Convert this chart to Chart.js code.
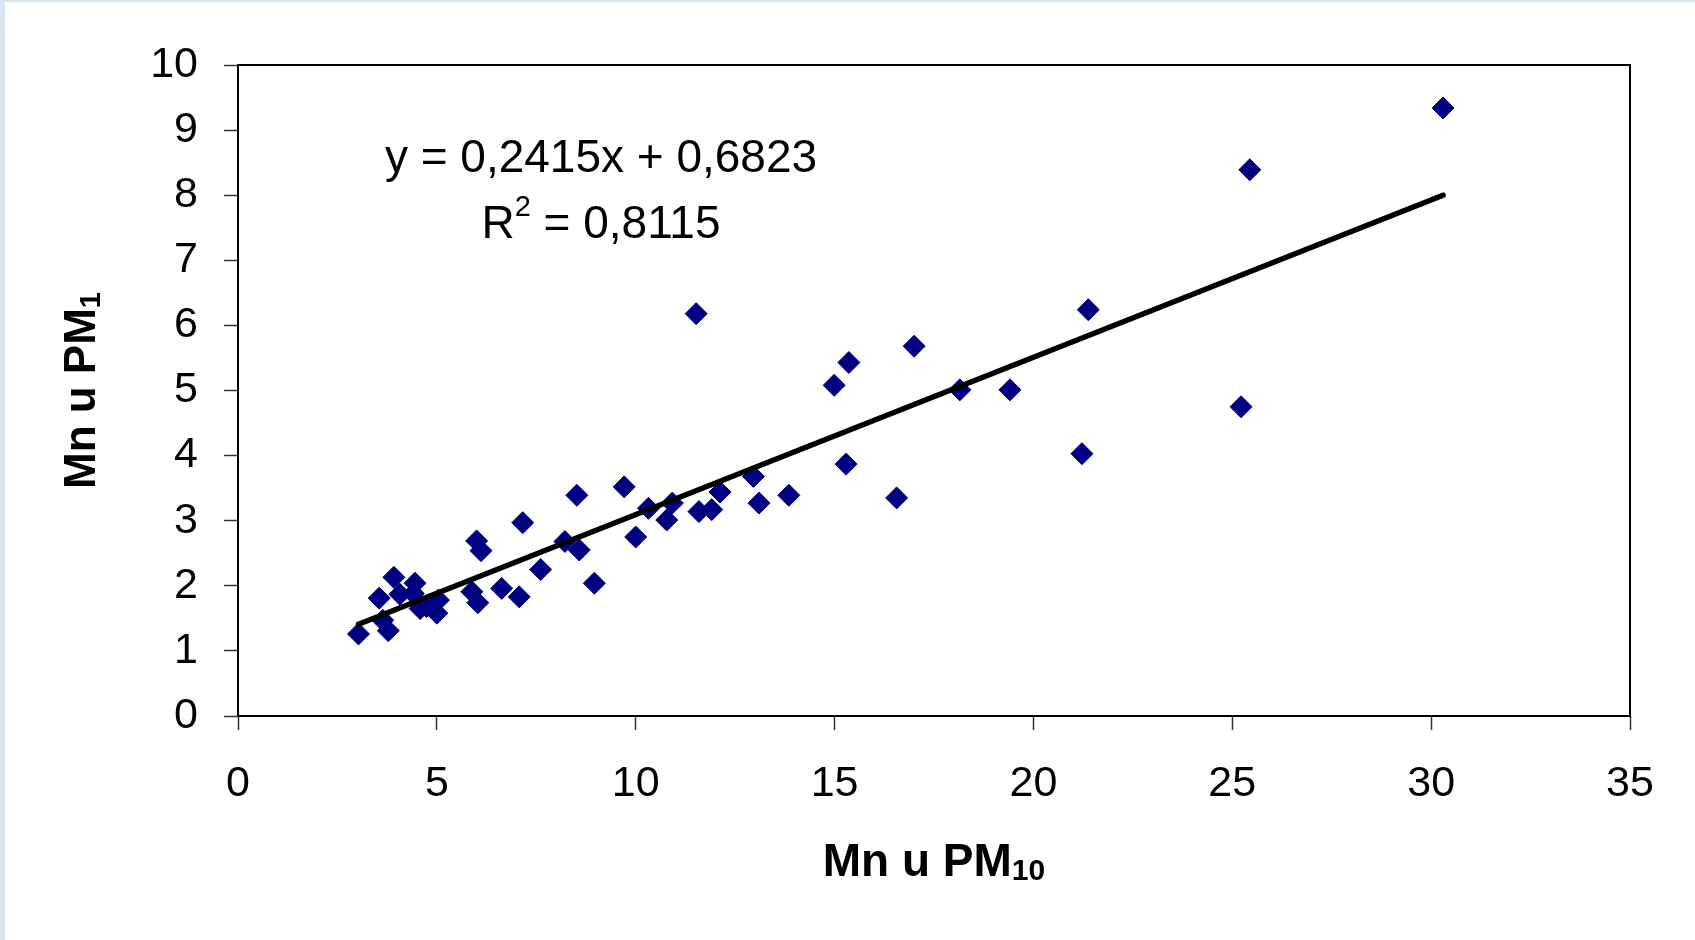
<!DOCTYPE html>
<html>
<head>
<meta charset="utf-8">
<script src="https://cdn.jsdelivr.net/npm/chart.js@4.4.1/dist/chart.umd.min.js"></script>
<style>
  html, body { margin: 0; padding: 0; }
  body {
    width: 1695px; height: 940px; overflow: hidden;
    background:
      linear-gradient(#d6e5f4, #d6e5f4) 0 0 / 5px 100% no-repeat,
      linear-gradient(#d6e5f4, #d6e5f4) 0 0 / 100% 2px no-repeat,
      #fff;
  }
  canvas { display: block; }
</style>
</head>
<body>
<canvas id="myChart" width="1695" height="940"></canvas>
<script>
    // Mn in PM10 (x) and in PM1 (y)
    const pm10 = [3.03, 3.55, 3.64, 3.78, 3.92, 4.07, 4.41, 4.45, 4.58, 4.74,
                  5.0, 5.04, 5.88, 6.0, 6.03, 6.11, 6.63, 7.07, 7.16, 7.61,
                  8.22, 8.52, 8.58, 8.96, 9.71, 10.0, 10.32, 10.78, 10.92, 11.52,
                  11.59, 11.91, 12.12, 12.96, 13.1, 13.85, 14.99, 15.29, 15.36, 16.56,
                  17.0, 18.15, 19.41, 21.22, 21.38, 25.22, 25.44, 30.3];
    const pm1 = [1.26, 1.81, 1.47, 1.31, 2.13, 1.87, 1.88, 2.04, 1.65, 1.68,
                 1.58, 1.78, 1.91, 2.69, 1.74, 2.54, 1.96, 1.83, 2.97, 2.25,
                 2.68, 3.39, 2.55, 2.04, 3.52, 2.75, 3.19, 3.01, 3.27, 6.18,
                 3.14, 3.17, 3.44, 3.68, 3.27, 3.39, 5.08, 3.87, 5.43, 3.35,
                 5.68, 5.01, 5.01, 4.03, 6.24, 4.75, 8.39, 9.34];

    // linear trend line, from first to last x
    const trendX = [3.03, 30.3];
    const trendY = [1.41, 8.0];

    const eqText = "y = 0,2415x + 0,6823";
    const r2Label = "R";
    const r2Sup = "2";
    const r2Value = " = 0,8115";

    // axis titles: main part + subscript
    const xTitle = ["Mn u PM", "10"];
    const yTitle = ["Mn u PM", "1"];

    const FONT = "'Liberation Sans', Arial, sans-serif";

    // black box round the plot area
    const frame = {
        id: 'frame',
        afterDraw(chart) {
            const {ctx, chartArea: a} = chart;
            ctx.save();
            ctx.strokeStyle = '#000';
            ctx.lineWidth = 2;
            ctx.strokeRect(a.left, a.top, a.right - a.left, a.bottom - a.top);
            ctx.restore();
        }
    };

    // writes "main" + lowered "sub" centred on (0,0) of current transform
    function subText(ctx, parts, size) {
        const sub = Math.round(size * 0.66);
        ctx.font = "bold " + size + "px " + FONT;
        const w1 = ctx.measureText(parts[0]).width;
        ctx.font = "bold " + sub + "px " + FONT;
        const w2 = ctx.measureText(parts[1]).width;
        let x = -(w1 + w2) / 2;
        ctx.textAlign = 'left';
        ctx.textBaseline = 'middle';
        ctx.font = "bold " + size + "px " + FONT;
        ctx.fillText(parts[0], x, 0);
        ctx.font = "bold " + sub + "px " + FONT;
        ctx.fillText(parts[1], x + w1, 9);
    }

    const titles = {
        id: 'titles',
        afterDraw(chart) {
            const {ctx, chartArea: a} = chart;
            ctx.save();
            ctx.fillStyle = '#000';
            ctx.translate((a.left + a.right) / 2, a.bottom + 147);
            subText(ctx, xTitle, 46);
            ctx.restore();

            ctx.save();
            ctx.fillStyle = '#000';
            ctx.translate(a.left - 155, (a.top + a.bottom) / 2);
            ctx.rotate(-Math.PI / 2);
            subText(ctx, yTitle, 44);
            ctx.restore();
        }
    };

    // trend line equation and R squared
    const equation = {
        id: 'equation',
        afterDraw(chart) {
            const {ctx, chartArea: a} = chart;
            const cx = a.left + 363;
            ctx.save();
            ctx.fillStyle = '#000';
            ctx.textBaseline = 'middle';
            ctx.textAlign = 'center';
            ctx.font = "46px " + FONT;
            ctx.fillText(eqText, cx, a.top + 94);

            const y2 = a.top + 160;
            const wR = ctx.measureText(r2Label).width;
            const wRest = ctx.measureText(r2Value).width;
            ctx.font = "29px " + FONT;
            const wSup = ctx.measureText(r2Sup).width;
            let x = cx - (wR + wSup + wRest) / 2;
            ctx.textAlign = 'left';
            ctx.font = "46px " + FONT;
            ctx.fillText(r2Label, x, y2);
            x += wR;
            ctx.font = "29px " + FONT;
            ctx.fillText(r2Sup, x, y2 - 17);
            x += wSup;
            ctx.font = "46px " + FONT;
            ctx.fillText(r2Value, x, y2);
            ctx.restore();
        }
    };

    const ctx = document.getElementById('myChart').getContext('2d');
    const chart = new Chart(ctx, {
        type: 'scatter',
        data: {
            datasets: [{
                type: 'line',
                label: 'trend',
                data: trendX.map((x, i) => ({x: x, y: trendY[i]})),
                borderColor: '#000',
                borderWidth: 5.5,
                borderCapStyle: 'round',
                pointRadius: 0,
                fill: false,
                order: 0
            }, {
                label: 'Mn',
                data: pm10.map((x, i) => ({x: x, y: pm1[i]})),
                pointStyle: 'rectRot',
                pointRadius: 11,
                backgroundColor: '#000080',
                borderColor: '#000080',
                borderWidth: 1,
                order: 1
            }]
        },
        options: {
            responsive: false,
            animation: false,
            events: [],
            layout: { padding: { top: 65, right: 65, left: 0, bottom: 0 } },
            plugins: {
                legend: { display: false },
                tooltip: { enabled: false }
            },
            scales: {
                x: {
                    type: 'linear',
                    min: 0,
                    max: 35,
                    ticks: {
                        stepSize: 5,
                        padding: 28,
                        color: '#000',
                        font: { family: FONT, size: 43 }
                    },
                    grid: { drawOnChartArea: false, tickLength: 14, tickColor: '#333', tickWidth: 1.5 },
                    border: { display: false },
                    afterFit(scale) { scale.height = 224; }
                },
                y: {
                    min: 0,
                    max: 10,
                    ticks: {
                        stepSize: 1,
                        padding: 26,
                        color: '#000',
                        font: { family: FONT, size: 43 }
                    },
                    grid: { drawOnChartArea: false, tickLength: 14, tickColor: '#333', tickWidth: 1.5 },
                    border: { display: false },
                    afterFit(scale) { scale.width = 238; }
                }
            }
        },
        plugins: [frame, titles, equation]
    });
</script>
</body>
</html>
